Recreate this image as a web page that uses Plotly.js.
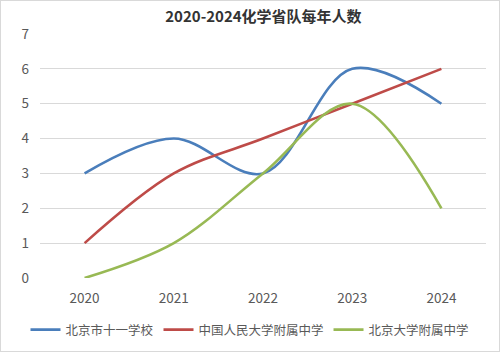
<!DOCTYPE html>
<html><head><meta charset="utf-8">
<script src="https://cdn.plot.ly/plotly-3.0.1.min.js"></script>
<style>html,body{margin:0;padding:0;background:#fff;}#c{width:498px;height:350px;border:1px solid #d9d9d9;}</style>
</head><body><div id="c"></div>
<script>
const years = ['2020','2021','2022','2023','2024'];
const seriesNames = ['北京市十一学校','中国人民大学附属中学','北京大学附属中学'];
const shiyi = [3,4,3,6,5];
const renda = [1,3,4,5,6];
const beida = [0,1,3,5,2];
const colors = ['#4A7EBB','#BE4B48','#98B954'];
const vals = [shiyi, renda, beida];
const font = '"Noto Sans CJK SC", "Open Sans", sans-serif';
const traces = vals.map((v,i)=>({
  x: years, y: v, type:'scatter', mode:'lines', name: seriesNames[i],
  line:{color:colors[i], width:2.6, shape:'spline', smoothing:1}
}));
const layout = {
  width:498, height:350,
  margin:{l:39,r:13,t:33,b:73},
  paper_bgcolor:'#fff', plot_bgcolor:'#fff',
  font:{family:font, color:'#595959', size:13},
  title:{text:'<b>2020-2024化学省队每年人数</b>', font:{family:font,size:15,color:'#333'}, x:0.527, xanchor:'center', y:0.955, yanchor:'middle'},
  xaxis:{type:'category', range:[-0.5,4.5], showgrid:false, zeroline:false, showline:false, ticks:'', tickfont:{size:13.5,color:'#595959'}, ticklabelstandoff:10},
  yaxis:{range:[0,7], dtick:1, showgrid:true, gridcolor:'#d9d9d9', gridwidth:1, zeroline:false, showline:false, ticks:'', tickfont:{size:13.5,color:'#595959'}, ticklabelstandoff:10},
  showlegend:true,
  legend:{orientation:'h', x:0.5, xanchor:'center', xref:'container', y:0.06, yanchor:'middle', yref:'container', font:{size:12.5,color:'#595959'}, itemwidth:30, traceorder:'normal'}
};
Plotly.newPlot('c', traces, layout, {displayModeBar:false, staticPlot:true});
</script></body></html>
